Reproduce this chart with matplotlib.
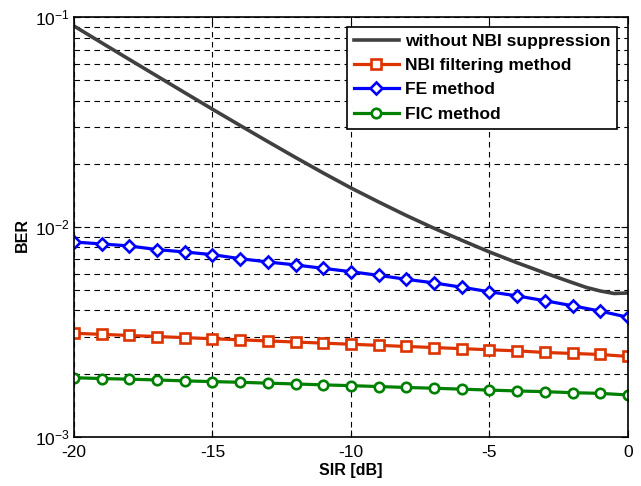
import matplotlib
matplotlib.use('Agg')
import matplotlib.pyplot as plt
import numpy as np
from matplotlib.ticker import LogLocator, FixedLocator

plt.rcParams['font.family'] = ['Liberation Sans', 'DejaVu Sans']
plt.rcParams['mathtext.fontset'] = 'custom'
plt.rcParams['mathtext.rm'] = 'Liberation Sans'
plt.rcParams['mathtext.it'] = 'Liberation Sans:italic'
plt.rcParams['mathtext.bf'] = 'Liberation Sans:bold'
plt.rcParams['axes.unicode_minus'] = False

# SIR [dB]
sir = [-20, -19, -18, -17, -16, -15, -14, -13, -12, -11, -10,
       -9, -8, -7, -6, -5, -4, -3, -2, -1, 0]

# curve without markers (a bit denser near the end)
sir_nbi = [-20, -19, -18, -17, -16, -15, -14, -13, -12, -11, -10,
           -9, -8, -7, -6, -5, -4, -3, -2, -1.5, -1, -0.5, 0]
ber_no_supp = [0.0909, 0.07557, 0.06292, 0.05243, 0.04369, 0.03645, 0.03048, 0.02554,
               0.02145, 0.01809, 0.01535, 0.01316, 0.01134, 0.009858, 0.008641, 0.007600,
               0.006750, 0.006035, 0.005424, 0.005147, 0.004952, 0.004818, 0.004845]

ber_filter = [0.003113, 0.003076, 0.003039, 0.003003, 0.002967, 0.002931, 0.002896,
              0.002861, 0.002827, 0.002793, 0.002759, 0.002726, 0.002693, 0.002661,
              0.002629, 0.002597, 0.002566, 0.002521, 0.002494, 0.002466, 0.002413]

ber_fe = [0.00848, 0.00830, 0.00812, 0.00780, 0.00760, 0.00738, 0.00706, 0.00681,
          0.00659, 0.00635, 0.00612, 0.00588, 0.00563, 0.00541, 0.00516, 0.00491,
          0.00469, 0.00445, 0.00421, 0.00397, 0.00371]

ber_fic = [0.001911, 0.001893, 0.001880, 0.001864, 0.001845, 0.001831, 0.001817,
           0.001800, 0.001784, 0.001766, 0.001751, 0.001734, 0.001717, 0.001702,
           0.001685, 0.001668, 0.001652, 0.001639, 0.001621, 0.001609, 0.001581]

fig = plt.figure(figsize=(6.41, 4.86), dpi=100)
ax = fig.add_axes([0.1154, 0.1015, 0.8643, 0.8629])

ax.semilogy(sir_nbi, ber_no_supp, color='#404040', lw=2.6, label='without NBI suppression')
ax.semilogy(sir, ber_filter, color='#DD3300', lw=2.3, marker='s', ms=6.5,
            mfc='white', mew=1.9, label='NBI filtering method')
ax.semilogy(sir, ber_fe, color='#0000FF', lw=2.3, marker='D', ms=6,
            mfc='white', mew=1.9, label='FE method')
ax.semilogy(sir, ber_fic, color='#008000', lw=2.3, marker='o', ms=6.8,
            mfc='white', mew=1.9, label='FIC method')

ax.set_xlim(-20, 0)
ax.set_ylim(1e-3, 1e-1)
ax.set_xticks([-20, -15, -10, -5, 0])
ax.yaxis.set_major_locator(FixedLocator([1e-3, 1e-2, 1e-1]))
ax.yaxis.set_minor_locator(LogLocator(base=10, subs=np.arange(2, 10)))
ax.yaxis.set_minor_formatter(plt.NullFormatter())

ax.grid(True, which='major', color='black', linestyle=(0, (5, 4)), lw=0.8)
ax.grid(True, which='minor', axis='y', color='black', linestyle=(0, (5, 4)), lw=0.8)
ax.set_axisbelow(True)

ax.tick_params(which='both', direction='in', top=True, right=True, labelsize=12.5)
ax.tick_params(axis='x', pad=6)
ax.tick_params(axis='y', pad=3)
ax.tick_params(which='major', length=5)
ax.tick_params(which='minor', length=3)
for s in ax.spines.values():
    s.set_linewidth(1.2)

ax.set_xlabel('SIR [dB]', fontsize=11.5, fontweight='bold', labelpad=2)
ax.set_ylabel('BER', fontsize=11.5, fontweight='bold')
ax.yaxis.set_label_coords(-0.079, 0.48)

leg = ax.legend(loc='upper right', bbox_to_anchor=(0.981, 0.977), fancybox=False,
                framealpha=1, edgecolor='black', prop={'weight': 'bold', 'size': 12.5},
                handlelength=2.6, borderpad=0.4, labelspacing=0.52, handletextpad=0.35,
                borderaxespad=0)
leg.get_frame().set_linewidth(1.2)

plt.savefig('out.png', dpi=100)
